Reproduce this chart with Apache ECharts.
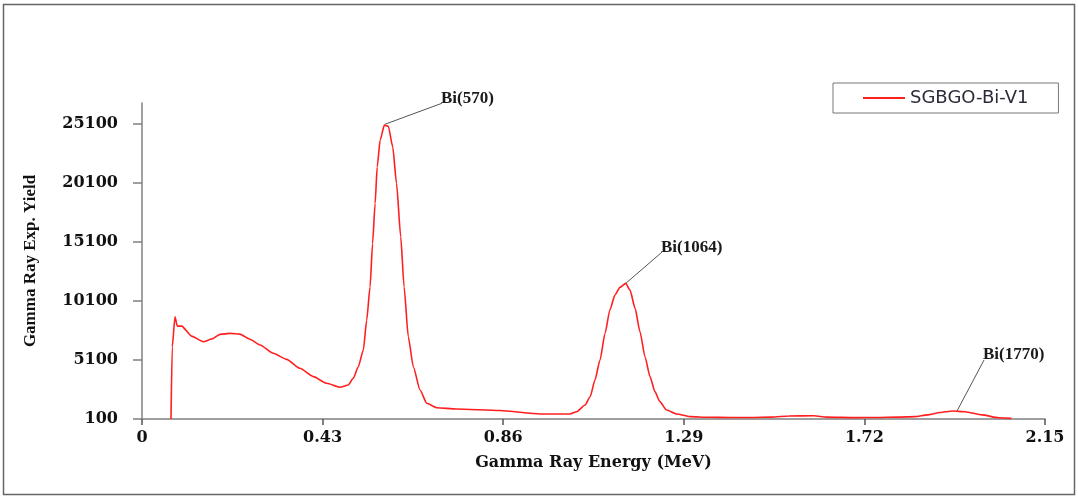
<!DOCTYPE html>
<html>
<head>
    <title>Gamma Ray Yield</title>
    <meta http-equiv=Content-Type content="text/html; charset=utf-8">
    <script src="https://cdn.jsdelivr.net/npm/echarts@6/dist/echarts.min.js"></script>
    <style>
        html, body { margin: 0; padding: 0; background: #fff; }
        #chart { width: 1078px; height: 498px; }
    </style>
</head>
<body>
<div id="chart"></div>
<script type="text/javascript">

    // energy (MeV) and yield
    var energy = [0.069, 0.072, 0.0786, 0.084, 0.0945, 0.118, 0.146, 0.166, 0.186, 0.2095,
        0.233, 0.257, 0.281, 0.3127, 0.3445, 0.376, 0.408, 0.4397, 0.4715, 0.491,
        0.503, 0.515, 0.527, 0.535, 0.543, 0.549, 0.555, 0.560, 0.567, 0.577,
        0.5865, 0.597, 0.606, 0.616, 0.624, 0.634, 0.646, 0.662, 0.678, 0.702,
        0.749, 0.852, 0.948, 1.019, 1.035, 1.055, 1.067, 1.0785, 1.0905, 1.1025,
        1.114, 1.126, 1.138, 1.1517, 1.162, 1.174, 1.1857, 1.1976, 1.2095, 1.2214,
        1.233, 1.249, 1.273, 1.305, 1.35, 1.40, 1.45, 1.50, 1.54, 1.60,
        1.63, 1.70, 1.75, 1.80, 1.84, 1.87, 1.90, 1.93, 1.96, 2.00,
        2.04, 2.07];
    var yieldVals = [100, 6230, 8770, 7980, 7980, 7130, 6650, 6880, 7280, 7360,
        7300, 6860, 6370, 5670, 5160, 4400, 3690, 3130, 2790, 2980,
        3550, 4530, 5950, 8490, 11310, 14990, 18380, 21480, 23750, 25020,
        24930, 23180, 20080, 15550, 11310, 7080, 4530, 2560, 1430, 1060,
        950, 820, 530, 530, 720, 1290, 1990, 3410, 5100, 7360,
        9340, 10610, 11260, 11600, 11030, 9480, 7500, 5380, 3690, 2410,
        1570, 860, 520, 300, 250, 230, 230, 260, 360, 370,
        260, 220, 230, 260, 300, 450, 650, 780, 720, 450,
        200, 150];

    var xTicks = [0, 0.43, 0.86, 1.29, 1.72, 2.15];
    var yTicks = [100, 5100, 10100, 15100, 20100, 25100];

    // peak labels: text, peak point, end of the leader line
    var peakNames = ['Bi(570)', 'Bi(1064)', 'Bi(1770)'];
    var peakAt = [[0.5786, 25100], [1.1517, 11600], [1.9405, 780]];
    var labelAt = [[0.7143, 26880], [1.238, 14250], [2.0048, 5100]];

    var seriesName = 'SGBGO-Bi-V1';

    var points = [];
    for (var i = 0; i < energy.length; i++) {
        points.push([energy[i], yieldVals[i]]);
    }

    var chart = echarts.init(document.getElementById('chart'));
    var option = {
        backgroundColor: '#fff',
        animation: false,
        grid: {
            left: 142,
            right: 33,
            top: 103,
            bottom: 79
        },
        legend: {
            data: [seriesName],
            left: 833,
            top: 83,
            padding: [6, 30, 6, 30],
            borderColor: '#777',
            borderWidth: 1,
            icon: 'rect',
            itemWidth: 42,
            itemHeight: 2,
            textStyle: {
                fontFamily: 'DejaVu Sans',
                fontSize: 18,
                lineHeight: 14,
                color: '#2b2b3a'
            }
        },
        xAxis: {
            type: 'value',
            min: 0,
            max: 2.15,
            interval: 0.43,
            name: 'Gamma Ray Energy (MeV)',
            nameLocation: 'middle',
            nameGap: 36,
            nameTextStyle: {
                fontFamily: 'DejaVu Serif',
                fontWeight: 'bold',
                fontSize: 16,
                color: '#111'
            },
            axisLine: { lineStyle: { color: '#808080', width: 1.5 } },
            axisTick: {
                length: 6,
                lineStyle: { color: '#555', width: 1.5 },
                customValues: xTicks
            },
            axisLabel: {
                margin: 11,
                fontFamily: 'DejaVu Serif',
                fontWeight: 'bold',
                fontSize: 16,
                color: '#111',
                customValues: xTicks,
                formatter: function (v) {
                    return v === 0 ? '0' : v.toFixed(2);
                }
            },
            splitLine: { show: false }
        },
        yAxis: {
            type: 'value',
            min: 100,
            max: 26900,
            interval: 5000,
            name: 'Gamma Ray Exp. Yield',
            nameLocation: 'middle',
            nameGap: 103,
            nameTextStyle: {
                fontFamily: 'Liberation Serif',
                fontWeight: 'bold',
                fontSize: 17,
                color: '#111'
            },
            axisLine: { show: true, lineStyle: { color: '#808080', width: 1.5 } },
            axisTick: {
                show: true,
                length: 9,
                lineStyle: { color: '#808080', width: 1.5 },
                customValues: yTicks
            },
            axisLabel: {
                margin: 24,
                fontFamily: 'DejaVu Serif',
                fontWeight: 'bold',
                fontSize: 16,
                color: '#111',
                customValues: yTicks,
                formatter: function (v) {
                    return String(v);
                }
            },
            splitLine: { show: false }
        },
        series: [{
            name: seriesName,
            type: 'line',
            data: points,
            symbol: 'none',
            smooth: 0.2,
            smoothMonotone: 'x',
            lineStyle: { color: '#ff1f1f', width: 1.6 },
            itemStyle: { color: '#ff1f1f' }
        }]
    };
    chart.setOption(option);

    // leader lines and peak labels, placed through the axes
    var graphics = [{
        type: 'rect',
        shape: { x: 3.5, y: 4.5, width: 1071, height: 490 },
        style: { fill: 'none', stroke: '#666', lineWidth: 1.5 },
        silent: true
    }];
    for (var k = 0; k < peakNames.length; k++) {
        var p0 = chart.convertToPixel({ gridIndex: 0 }, peakAt[k]);
        var p1 = chart.convertToPixel({ gridIndex: 0 }, labelAt[k]);
        graphics.push({
            type: 'line',
            shape: { x1: p0[0], y1: p0[1], x2: p1[0], y2: p1[1] },
            style: { stroke: '#555', lineWidth: 1 },
            silent: true
        });
        graphics.push({
            type: 'text',
            x: p1[0] - 1,
            y: p1[1] - 5,
            style: {
                text: peakNames[k],
                font: 'bold 17px "Liberation Serif"',
                fill: '#1a1a1a',
                verticalAlign: 'middle',
                align: 'left'
            },
            silent: true
        });
    }
    chart.setOption({ graphic: graphics });

</script>
</body>
</html>
